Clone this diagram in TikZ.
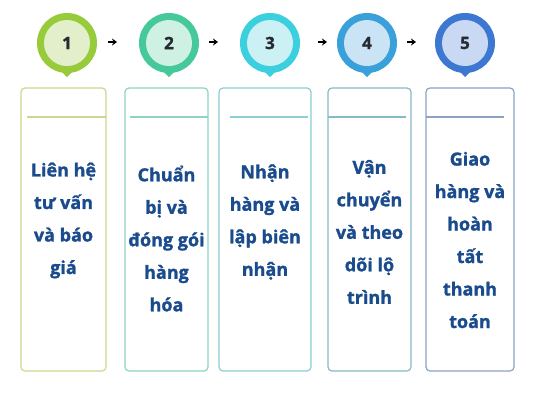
\documentclass[tikz,border=0pt]{standalone}
\usepackage{fontspec}
\setmainfont{Open Sans}
\newfontfamily\heavyfont[BoldFeatures={FakeBold=1.3}]{Open Sans}
\usetikzlibrary{arrows.meta}
\definecolor{txtcol}{HTML}{1A4B8C}
\definecolor{numcol}{HTML}{262A33}
\definecolor{outA}{HTML}{98CB3C}\definecolor{inA}{HTML}{E3EFCB}\definecolor{boxA}{HTML}{C9DA8E}
\definecolor{outB}{HTML}{45C99A}\definecolor{inB}{HTML}{CFF1E4}\definecolor{boxB}{HTML}{8ED3C4}
\definecolor{outC}{HTML}{3CCFDD}\definecolor{inC}{HTML}{CBF1F5}\definecolor{boxC}{HTML}{8CCFD3}
\definecolor{outD}{HTML}{3AA0DA}\definecolor{inD}{HTML}{CBE4F5}\definecolor{boxD}{HTML}{88B9C6}
\definecolor{outE}{HTML}{3C77D2}\definecolor{inE}{HTML}{C9D9F3}\definecolor{boxE}{HTML}{8AA3C3}
\tikzset{
  stepbox/.style={draw, line width=1.2pt, rounded corners=4pt},
  sepline/.style={line width=1.2pt},
  steptext/.style={text=txtcol, font=\heavyfont\fontsize{18}{32.5}\selectfont\bfseries, align=center, inner sep=0pt},
  numtext/.style={text=numcol, font=\heavyfont\fontsize{17}{20}\selectfont\bfseries, inner sep=0pt},
  flowarrow/.style={-{Stealth[length=5pt,width=7pt]}, line width=1.8pt, black},
}
\newcommand{\pinmark}[3]{% x, outer, inner
  \fill[#2] (#1,43) circle[radius=30];
  \fill[#2] (#1-7,70) -- (#1+7,70) -- (#1,77) -- cycle;
  \fill[#3] (#1,43) circle[radius=23];
}
\begin{document}
\begin{tikzpicture}[x=1pt,y=-1pt]
\useasboundingbox (0,0) rectangle (533,400);
\fill[white] (0,0) rectangle (533,400);
% pins
\pinmark{67}{outA}{inA}
\pinmark{169}{outB}{inB}
\pinmark{270}{outC}{inC}
\pinmark{367}{outD}{inD}
\pinmark{465}{outE}{inE}
\node[numtext] (n1) at (67,43) {1};
\node[numtext] (n2) at (169,43) {2};
\node[numtext] (n3) at (270,43) {3};
\node[numtext] (n4) at (367,43) {4};
\node[numtext] (n5) at (465,43) {5};
% arrows
\coordinate (a1s) at (108,42); \coordinate (a1e) at (117,42);
\coordinate (a2s) at (209,42); \coordinate (a2e) at (218,42);
\coordinate (a3s) at (318,42); \coordinate (a3e) at (327,42);
\coordinate (a4s) at (407,42); \coordinate (a4e) at (416,42);
\draw[flowarrow] (a1s) -- (a1e);
\draw[flowarrow] (a2s) -- (a2e);
\draw[flowarrow] (a3s) -- (a3e);
\draw[flowarrow] (a4s) -- (a4e);
% boxes
\draw[stepbox, boxA] (21,88) rectangle (106,371);
\draw[sepline, boxA] (27,117) -- (106,117);
\draw[stepbox, boxB] (125,88) rectangle (208,371);
\draw[sepline, boxB] (130,117) -- (208,117);
\draw[stepbox, boxC] (219,88) rectangle (311,371);
\draw[sepline, boxC] (230,117) -- (308,117);
\draw[stepbox, boxD] (328,88) rectangle (411,371);
\draw[sepline, boxD] (328,117) -- (406,117);
\draw[stepbox, boxE] (426,88) rectangle (514,371);
\draw[sepline, boxE] (426,117) -- (504,117);
% texts
\node[steptext] (t1) at (63.5,220.5) {Liên hệ\\tư vấn\\và báo\\giá};
\node[steptext] (t2) at (166.5,238.5) {Chuẩn\\bị và\\đóng gói\\hàng\\hóa};
\node[steptext] (t3) at (265,222) {Nhận\\hàng và\\lập biên\\nhận};
\node[steptext] (t4) at (369.5,232) {Vận\\chuyển\\và theo\\dõi lộ\\trình};
\node[steptext] (t5) at (470,240) {Giao\\hàng và\\hoàn\\tất\\thanh\\toán};
\end{tikzpicture}
\end{document}
